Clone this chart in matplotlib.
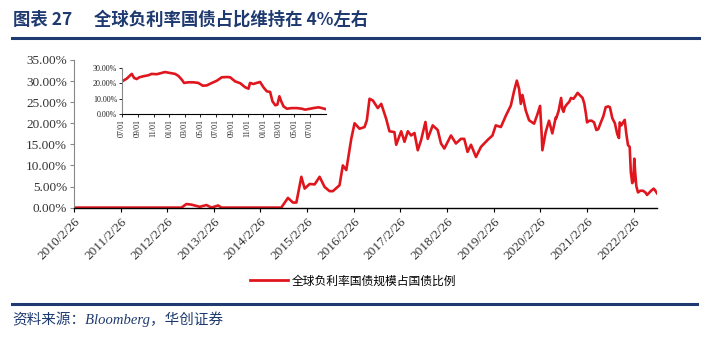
import numpy as np
import matplotlib
matplotlib.use("Agg")
import matplotlib.pyplot as plt
from matplotlib.lines import Line2D
from matplotlib.ticker import FuncFormatter

plt.rcParams['font.family'] = ['Noto Sans CJK SC', 'DejaVu Sans']

NAVY = '#1f3a70'
RED = '#e0161e'

# share of negative-yield bonds in global government bonds (%)
dates = [
    '2010-02-26', '2012-06-17', '2012-07-26', '2012-09-03', '2012-11-07', '2012-12-30',
    '2013-02-07', '2013-03-31', '2013-04-26', '2014-08-08', '2014-09-29', '2014-11-07',
    '2014-12-04', '2015-01-12', '2015-02-07', '2015-03-18', '2015-04-26', '2015-06-04',
    '2015-07-13', '2015-08-21', '2015-09-16', '2015-11-07', '2015-12-03', '2015-12-30',
    '2016-02-07', '2016-03-04', '2016-04-12', '2016-05-21', '2016-06-08', '2016-06-29',
    '2016-07-25', '2016-09-02', '2016-09-29', '2016-11-07', '2016-12-02', '2017-01-10',
    '2017-01-24', '2017-03-04', '2017-03-30', '2017-04-25', '2017-05-21', '2017-06-16',
    '2017-07-12', '2017-08-07', '2017-09-10', '2017-09-28', '2017-11-06', '2017-12-15',
    '2018-01-10', '2018-02-05', '2018-03-29', '2018-05-07', '2018-06-15', '2018-07-11',
    '2018-08-06', '2018-09-02', '2018-10-11', '2018-11-19', '2019-01-09', '2019-02-17',
    '2019-03-15', '2019-04-24', '2019-06-02', '2019-07-11', '2019-08-06', '2019-08-27',
    '2019-09-14', '2019-09-27', '2019-10-10', '2019-11-05', '2019-12-01', '2020-01-09',
    '2020-02-04', '2020-02-25', '2020-03-09', '2020-03-14', '2020-04-09', '2020-05-05',
    '2020-05-31', '2020-06-27',
    '2020-07-01', '2020-07-19', '2020-08-08', '2020-08-17', '2020-08-27', '2020-09-06',
    '2020-09-22', '2020-10-11', '2020-10-24', '2020-11-13', '2020-12-02', '2020-12-15',
    '2021-01-04', '2021-01-23', '2021-02-05', '2021-02-18', '2021-02-27', '2021-03-16',
    '2021-04-04', '2021-04-23', '2021-05-11', '2021-05-26', '2021-06-15', '2021-07-04',
    '2021-07-23', '2021-08-12', '2021-08-25', '2021-09-13', '2021-10-03', '2021-10-22',
    '2021-11-04', '2021-11-10', '2021-11-23', '2021-12-06', '2021-12-19', '2022-01-01',
    '2022-01-14', '2022-01-27', '2022-02-05', '2022-02-16', '2022-02-24', '2022-03-04',
    '2022-03-11', '2022-03-20', '2022-04-02', '2022-04-21', '2022-05-11', '2022-05-30',
    '2022-06-12', '2022-06-25', '2022-07-14', '2022-08-03', '2022-08-16', '2022-08-29',
]
share = [
    0.0, 0.0, 0.85, 0.7, 0.2, 0.6,
    0.0, 0.5, 0.0, 0.0, 2.3, 1.2,
    1.2, 7.3, 4.5, 5.6, 5.5, 7.3,
    4.9, 3.9, 3.9, 5.3, 10.0, 8.9,
    16.3, 20.0, 18.7, 19.1, 20.7, 25.8,
    25.4, 23.6, 24.6, 21.0, 18.1, 17.9,
    14.9, 18.1, 15.6, 18.1, 17.1, 17.7,
    13.6, 16.0, 20.3, 16.3, 19.5, 18.4,
    15.2, 14.0, 17.1, 15.2, 16.3, 16.3,
    13.2, 14.9, 12.0, 14.4, 16.0, 17.1,
    19.5, 19.1, 21.8, 24.2, 27.7, 30.1,
    28.1, 24.6, 26.7, 23.0, 20.7, 19.9,
    22.1, 24.1, 17.1, 13.6, 17.9, 20.6,
    17.6, 21.4,
    21.2, 22.9, 26.0, 23.4, 22.7, 23.8,
    24.5, 25.1, 26.0, 25.8, 26.6, 27.2,
    26.6, 26.0, 24.7, 22.3, 20.2, 20.6,
    20.6, 20.2, 18.4, 18.6, 20.2, 21.6,
    23.8, 24.0, 23.8, 21.2, 20.0, 17.4,
    16.5, 20.2, 19.5, 20.2, 20.8, 17.4,
    14.8, 14.4, 8.4, 5.8, 6.2, 11.6,
    8.4, 5.1, 3.6, 4.0, 4.0, 3.6,
    3.0, 3.4, 4.0, 4.5, 4.0, 3.4,
]
legend_label = '全球负利率国债规模占国债比例'

year_ticks = ['%d-02-26' % y for y in range(2010, 2023)]
year_labels = ['%d/2/26' % y for y in range(2010, 2023)]
inset_ticks = ['2020-07-01', '2020-09-01', '2020-11-01', '2021-01-01', '2021-03-01',
               '2021-05-01', '2021-07-01', '2021-09-01', '2021-11-01', '2022-01-01',
               '2022-03-01', '2022-05-01', '2022-07-01']
inset_labels = [d[5:7] + '/' + d[8:10] for d in inset_ticks]

x = np.array(dates, dtype='datetime64[D]')
y = np.array(share)

pct = FuncFormatter(lambda v, pos: '%.2f%%' % v)
num_font = 'Liberation Serif'

fig = plt.figure(figsize=(7.06, 3.41), dpi=100)

# main chart
ax = fig.add_axes([0.1048, 0.3912, 0.8258, 0.4329])
ax.plot(x, y, color=RED, lw=1.9, solid_joinstyle='round')
ax.set_xlim(np.datetime64('2010-02-26'), np.datetime64('2022-08-29'))
ax.set_ylim(0, 35)
ax.set_yticks(np.arange(0, 36, 5))
ax.yaxis.set_major_formatter(pct)
ax.set_xticks(np.array(year_ticks, dtype='datetime64[D]'))
ax.set_xticklabels(year_labels, rotation=45, ha='right', rotation_mode='anchor')
for lab in ax.get_xticklabels() + ax.get_yticklabels():
    lab.set_fontfamily(num_font)
    lab.set_fontsize(9.5)
    lab.set_color('#333333')
ax.spines['top'].set_visible(False)
ax.spines['right'].set_visible(False)
ax.spines['left'].set_color('#888888')
ax.spines['bottom'].set_color('#000000')
ax.spines['bottom'].set_linewidth(1.0)
ax.tick_params(axis='y', direction='out', length=3, color='#888888', pad=2)
ax.tick_params(axis='x', direction='out', length=3, color='#000000', pad=3)

# inset: last two years
ins = fig.add_axes([0.1728, 0.6648, 0.289, 0.1367])
ins.plot(x, y, color=RED, lw=1.9)
ins.set_xlim(np.datetime64('2020-07-01'), np.datetime64('2022-09-01'))
ins.set_ylim(0, 30)
ins.set_yticks([0, 10, 20, 30])
ins.yaxis.set_major_formatter(pct)
ins.set_xticks(np.array(inset_ticks, dtype='datetime64[D]'))
ins.set_xticklabels(inset_labels, rotation=90, ha='center', va='top')
for lab in ins.get_xticklabels() + ins.get_yticklabels():
    lab.set_fontfamily(num_font)
    lab.set_fontsize(5.8)
    lab.set_color('#222222')
ins.spines['top'].set_visible(False)
ins.spines['right'].set_visible(False)
ins.spines['left'].set_color('#888888')
ins.spines['bottom'].set_color('#000000')
ins.tick_params(direction='out', length=2, pad=1.5, width=0.6)
ins.patch.set_alpha(0)

# legend under the plot
handle = Line2D([], [], color=RED, lw=2.0)
fig.legend([handle], [legend_label], loc='center', bbox_to_anchor=(0.500, 0.176),
           frameon=False, prop={'size': 8.5}, handlelength=3.2, handletextpad=0.3)

# title and source lines
fig.text(0.018, 0.942, '图表 27', fontsize=12.5, fontweight='bold', color=NAVY,
         va='center', ha='left')
fig.text(0.133, 0.942, '全球负利率国债占比维持在 4%左右', fontsize=12.5,
         fontweight='bold', color=NAVY, va='center', ha='left')
fig.add_artist(Line2D([0.017, 0.990], [0.888, 0.888], color=NAVY, lw=2.2))
fig.add_artist(Line2D([0.017, 0.987], [0.108, 0.108], color=NAVY, lw=2.2))
fig.text(0.018, 0.064, '资料来源：Bloomberg，华创证券', fontsize=10.5, style='italic',
         family=['Liberation Serif', 'Noto Sans CJK SC'],
         color=NAVY, va='center', ha='left')

fig.savefig('out.png', dpi=100)
